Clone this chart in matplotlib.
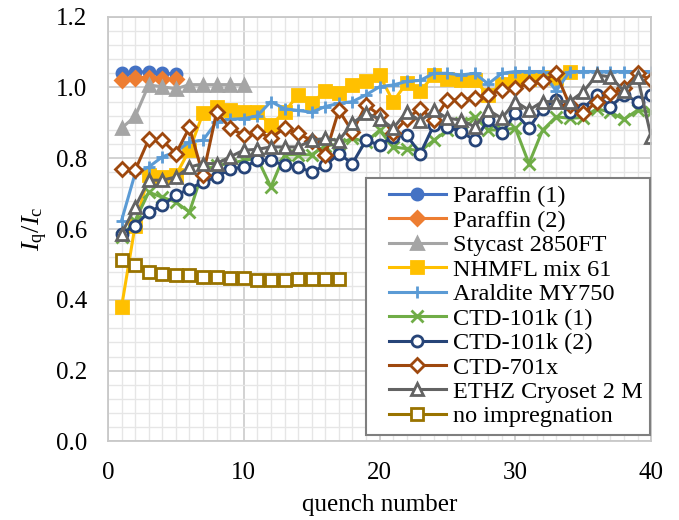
import numpy as np
import matplotlib
matplotlib.use("Agg")
import matplotlib.pyplot as plt
from matplotlib.ticker import MultipleLocator, FormatStrFormatter
from matplotlib.lines import Line2D
from matplotlib.legend_handler import HandlerLine2D

plt.rcParams['font.family'] = ['Liberation Serif', 'DejaVu Serif']
plt.rcParams['mathtext.fontset'] = 'custom'
plt.rcParams['mathtext.rm'] = 'Liberation Serif'
plt.rcParams['mathtext.it'] = 'Liberation Serif:italic'

# values (I_q/I_c per quench)
paraffin1 = [1.040, 1.045, 1.043, 1.040, 1.038]
paraffin2 = [1.022, 1.028, 1.028, 1.025, 1.023]
stycast = [0.885, 0.918, 1.007, 1.002, 0.996, 1.008, 1.008, 1.008, 1.008, 1.008]
nhmfl = [0.38, 0.61, 0.752, 0.748, 0.752, 0.823, 0.927, 0.944, 0.935, 0.93,
         0.93, 0.895, 0.93, 0.98, 0.955, 0.99, 0.983, 1.007, 1.017, 1.035,
         0.96, 1.013, 0.99, 1.035, 1.025, 1.02, 1.02, 0.98, 1.01, 1.02,
         1.025, 1.03, 1.027, 1.045]
araldite = [0.624, 0.757, 0.775, 0.804, 0.818, 0.846, 0.851, 0.903, 0.91, 0.912,
            0.92, 0.96, 0.94, 0.935, 0.93, 0.946, 0.955, 0.96, 0.979, 1.002,
            1.007, 1.017, 1.02, 1.04, 1.04, 1.035, 1.04, 1.01, 1.04, 1.045,
            1.045, 1.045, 0.99, 1.045, 1.045, 1.045, 1.045, 1.045, 1.045, 1.045]
ctd101_1 = [0.577, 0.624, 0.704, 0.69, 0.676, 0.648, 0.765, 0.78, 0.785, 0.794,
            0.80, 0.719, 0.81, 0.81, 0.81, 0.835, 0.84, 0.857, 0.846, 0.879,
            0.832, 0.827, 0.82, 0.851, 0.879, 0.90, 0.917, 0.88, 0.88, 0.885,
            0.785, 0.879, 0.917, 0.913, 0.915, 0.94, 0.93, 0.91, 0.936, 0.93]
ctd101_2 = [0.587, 0.61, 0.648, 0.667, 0.695, 0.714, 0.733, 0.747, 0.77, 0.775,
            0.794, 0.794, 0.78, 0.775, 0.761, 0.78, 0.813, 0.785, 0.851, 0.837,
            0.86, 0.865, 0.813, 0.894, 0.889, 0.875, 0.851, 0.908, 0.87, 0.927,
            0.885, 0.94, 0.965, 0.93, 0.94, 0.979, 0.946, 0.979, 0.96, 0.979]
ctd701 = [0.771, 0.766, 0.853, 0.851, 0.813, 0.887, 0.752, 0.93, 0.885, 0.865,
          0.875, 0.857, 0.885, 0.87, 0.85, 0.809, 0.936, 0.875, 0.95, 0.922,
          0.87, 0.912, 0.94, 0.908, 0.965, 0.965, 0.97, 0.979, 0.993, 0.998,
          1.012, 1.017, 1.04, 0.95, 0.927, 0.96, 0.983, 0.998, 1.04, 1.021]
ethz = [0.587, 0.662, 0.738, 0.738, 0.747, 0.775, 0.785, 0.785, 0.804, 0.823,
        0.825, 0.832, 0.832, 0.832, 0.851, 0.856, 0.85, 0.899, 0.927, 0.912,
        0.885, 0.931, 0.905, 0.936, 0.913, 0.908, 0.889, 0.936, 0.913, 0.96,
        0.936, 0.96, 0.96, 0.96, 0.988, 1.035, 1.03, 0.99, 1.03, 0.86]
no_impreg = [0.513, 0.499, 0.479, 0.473, 0.471, 0.47, 0.465, 0.465, 0.462, 0.462,
             0.456, 0.455, 0.457, 0.458, 0.458, 0.458, 0.458]

series = [
    ("Paraffin (1)", paraffin1, "#4472C4", "o", "#4472C4"),
    ("Paraffin (2)", paraffin2, "#ED7D31", "D", "#ED7D31"),
    ("Stycast 2850FT", stycast, "#A5A5A5", "^", "#A5A5A5"),
    ("NHMFL mix 61", nhmfl, "#FFC000", "s", "#FFC000"),
    ("Araldite MY750", araldite, "#5B9BD5", "+", "#5B9BD5"),
    ("CTD-101k (1)", ctd101_1, "#70AD47", "x", "#70AD47"),
    ("CTD-101k (2)", ctd101_2, "#264478", "o", "white"),
    ("CTD-701x", ctd701, "#9E480E", "D", "white"),
    ("ETHZ Cryoset 2 M", ethz, "#636363", "^", "white"),
    ("no impregnation", no_impreg, "#997300", "s", "white"),
]

fig = plt.figure(figsize=(6.79, 5.2), dpi=100)
ax = fig.add_axes([0.159, 0.151, 0.800, 0.817])

for name, vals, col, mk, fc in series:
    x = np.arange(1, len(vals) + 1)
    ms = 8
    if mk == "D":
        ms = 7
    if mk in "+x":
        ms = 9
    ax.plot(x, vals, color=col, lw=2.2, marker=mk, ms=ms, mfc=fc, mec=col,
            mew=2.0, label=name)

ax.set_xlim(0, 40)
ax.set_ylim(0, 1.2)
ax.xaxis.set_major_locator(MultipleLocator(10))
ax.xaxis.set_minor_locator(MultipleLocator(1))
ax.yaxis.set_major_locator(MultipleLocator(0.2))
ax.yaxis.set_minor_locator(MultipleLocator(0.04))
ax.yaxis.set_major_formatter(FormatStrFormatter('%.1f'))
ax.grid(which='major', color='#CFCFCF', lw=1.3)
ax.grid(which='minor', color='#E6E6E6', lw=1.0)
ax.set_axisbelow(True)
for s in ax.spines.values():
    s.set_color('#C8C8C8')
    s.set_linewidth(1.3)
ax.tick_params(which='both', length=0, labelsize=18)
ax.tick_params(axis='x', pad=15)
ax.tick_params(axis='y', pad=15)

ax.set_xlabel("quench number", fontsize=18, labelpad=7)
ax.set_ylabel(r"$I_{\mathrm{q}}/I_{\mathrm{c}}$", fontsize=19, labelpad=4)

leg = ax.legend(loc='lower right', bbox_to_anchor=(0.998, 0.016), borderaxespad=0,
                fontsize=17.5, fancybox=False, framealpha=1, edgecolor='#7F7F7F',
                handlelength=3.0, labelspacing=0.1, borderpad=0.3,
                handletextpad=0.3,
                handler_map={Line2D: HandlerLine2D(xpad=0.65)})
leg.get_frame().set_linewidth(1.5)

fig.savefig("out.png", dpi=100)
